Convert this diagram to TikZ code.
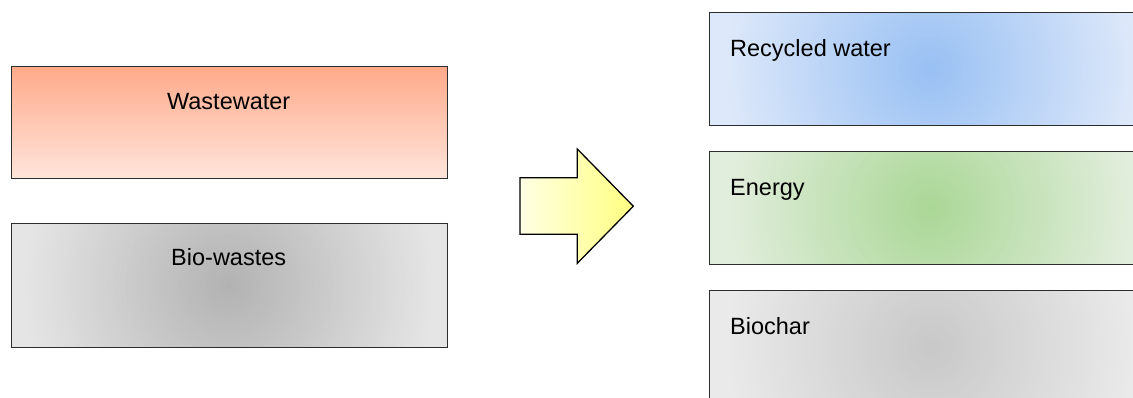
\documentclass[tikz,border=0pt]{standalone}
\usepackage{fontspec}
\setmainfont{Liberation Sans}
\definecolor{wwTop}{RGB}{255,170,138}
\definecolor{wwBot}{RGB}{255,229,219}
\definecolor{bioC}{RGB}{178,178,178}
\definecolor{bioE}{RGB}{229,229,229}
\definecolor{recC}{RGB}{152,192,243}
\definecolor{recE}{RGB}{221,232,250}
\definecolor{enC}{RGB}{170,215,150}
\definecolor{enE}{RGB}{226,238,221}
\definecolor{chC}{RGB}{200,200,200}
\definecolor{chE}{RGB}{234,234,234}
\definecolor{arL}{RGB}{255,255,228}
\definecolor{arR}{RGB}{255,255,128}
\definecolor{edge}{RGB}{45,45,45}
\tikzset{
  box/.style={draw=edge, line width=1.1pt, minimum width=436pt, inner sep=0pt, anchor=north west},
  radfill/.style 2 args={path picture={
      \fill[#2] (path picture bounding box.south west) rectangle (path picture bounding box.north east);
      \foreach \k in {1,...,80}{
        \pgfmathsetmacro\rr{205*(1-\k/80)+1}
        \pgfmathtruncatemacro\pp{100*\k/80}
        \fill[#1!\pp!#2] (path picture bounding box.center) circle[radius=\rr pt];
      }}},
  lbl/.style={font=\fontsize{23.5}{28}\selectfont, inner sep=0pt, text=black},
  bigarrow/.style={draw=black, line width=1.3pt, left color=arL, right color=arR, line join=miter}
}
\begin{document}
\begin{tikzpicture}[x=1pt,y=-1pt]
\useasboundingbox (0,0) rectangle (1133,397);
\clip (0,0) rectangle (1133,397);
% inputs
\node[box, minimum height=112.6pt, top color=wwTop, bottom color=wwBot] (ww) at (10.7,65.7) {};
\node[box, minimum height=124pt, radfill={bioC}{bioE}] (bio) at (10.7,222.7) {};
\node[lbl, anchor=base] (tww) at (228.7,109.3) {Wastewater};
\node[lbl, anchor=base] (tbio) at (228.7,265.7) {Bio-wastes};
% arrow
\path[bigarrow] (520,177.7) -- (577.3,177.7) -- (577.3,149) -- (633.3,206.2)
  -- (577.3,263.3) -- (577.3,234.3) -- (520,234.3) -- cycle;
% outputs
\node[box, minimum width=442pt, minimum height=112.7pt, radfill={recC}{recE}] (rec) at (709,12.3) {};
\node[box, minimum width=442pt, minimum height=113pt, radfill={enC}{enE}] (en) at (709,151) {};
\node[box, minimum width=442pt, minimum height=113pt, radfill={chC}{chE}] (ch) at (709,290) {};
\node[lbl, anchor=base west] (trec) at (730,56) {Recycled water};
\node[lbl, anchor=base west] (ten) at (730,195) {Energy};
\node[lbl, anchor=base west] (tch) at (730,334) {Biochar};
\end{tikzpicture}
\end{document}
